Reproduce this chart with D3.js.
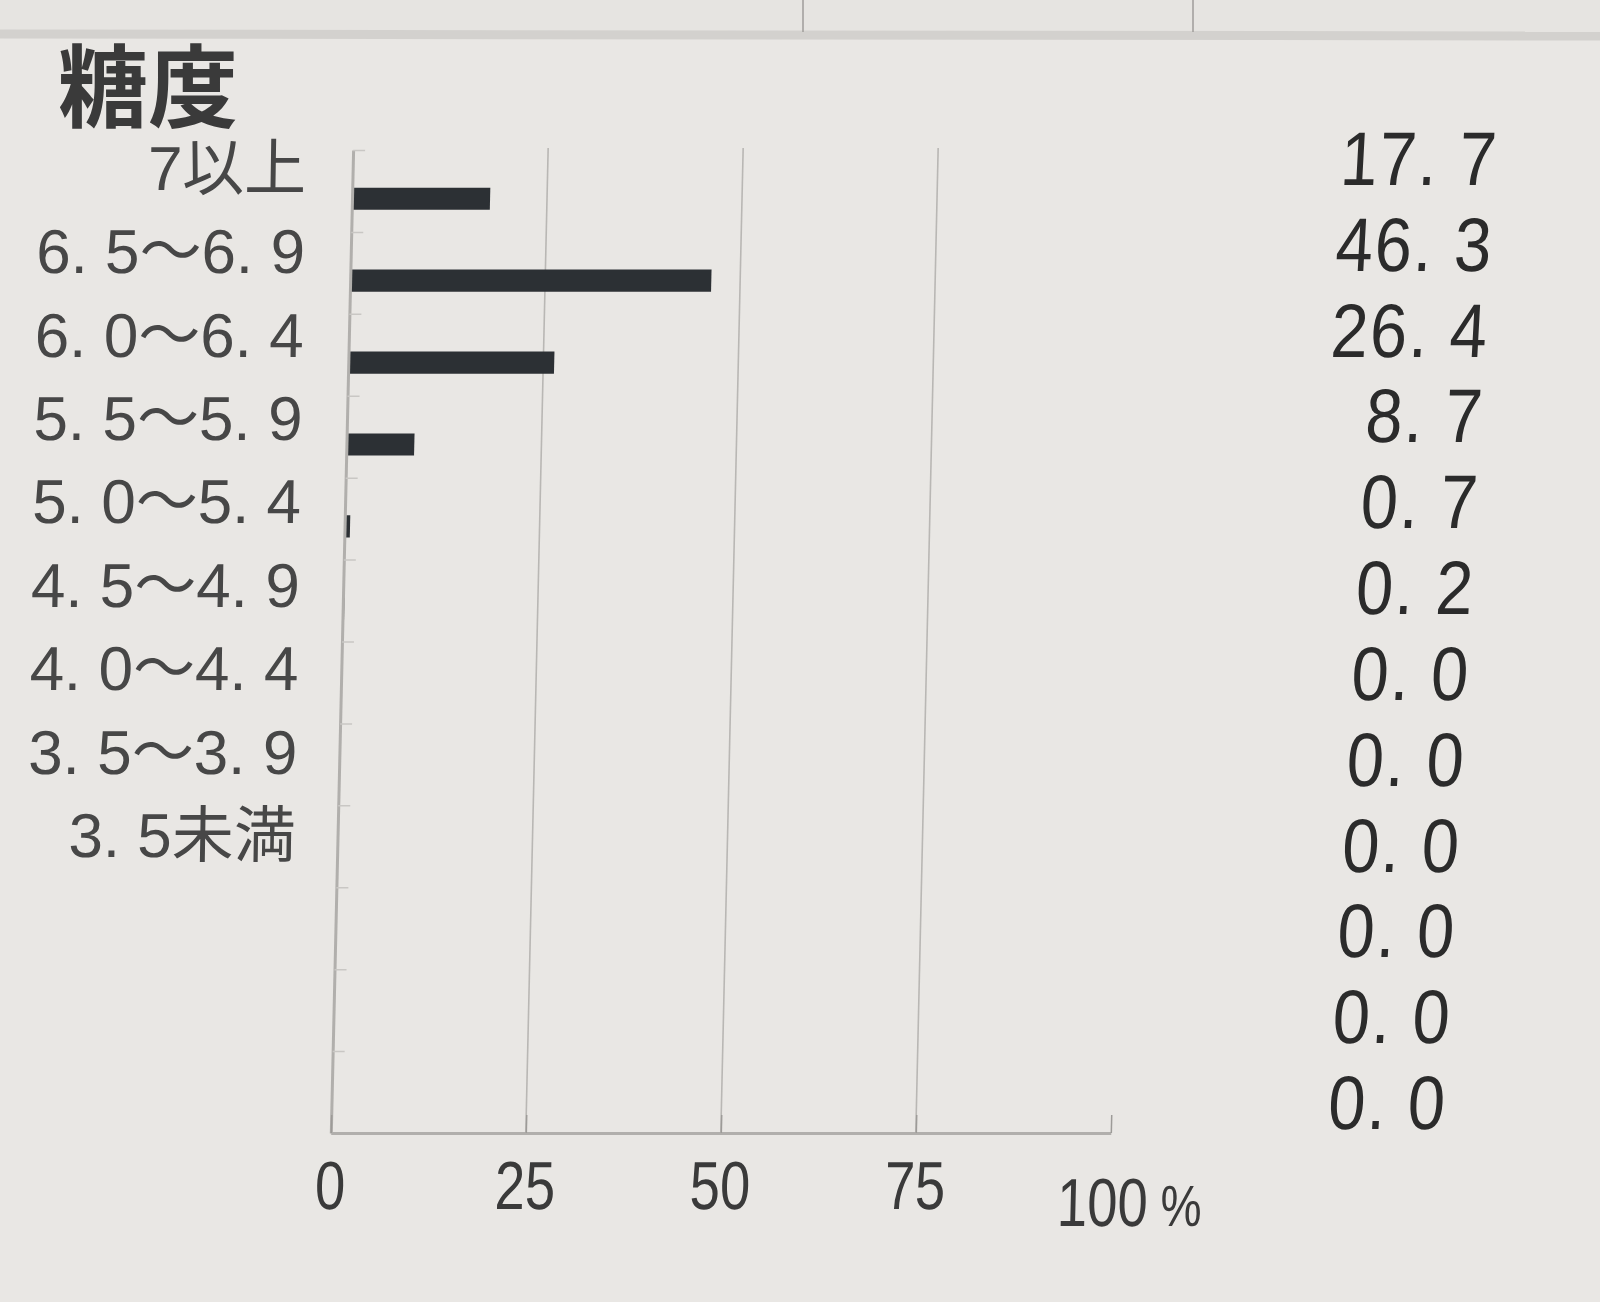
<!DOCTYPE html>
<html><head><meta charset="utf-8">
<script src="https://cdn.jsdelivr.net/npm/d3@7"></script>
<style>
html,body{margin:0;padding:0;background:#e9e7e4;}
svg{display:block;}
</style></head><body>
<svg id="chart" width="1600" height="1302"></svg>
<script>
// ---- data ----
const title = "糖度";
const categories = ["7以上","6.5～6.9","6.0～6.4","5.5～5.9","5.0～5.4","4.5～4.9","4.0～4.4","3.5～3.9","3.5未満","","",""];
const values = [17.7, 46.3, 26.4, 8.7, 0.7, 0.2, 0.0, 0.0, 0.0, 0.0, 0.0, 0.0];
const xTicks = [0, 25, 50, 75, 100];
const gridTicks = [25, 50, 75];
const unit = "%";

// ---- layout ----
const W = 1600, H = 1302;
const svg = d3.select("#chart");
const skew = (deg, py) => `translate(0,${py}) skewX(${deg}) translate(0,${-py})`;
const spaced = s => s.replace(/\./g, ". ");

// background / page edge at top
svg.append("rect").attr("width", W).attr("height", H).attr("fill", "#e9e7e4");
svg.append("rect").attr("x", 0).attr("y", 0).attr("width", W).attr("height", 32).attr("fill", "#e6e4e1");
svg.append("line").attr("x1", 0).attr("x2", W).attr("y1", 34).attr("y2", 36)
  .attr("stroke", "#d3d1ce").attr("stroke-width", 9);
[803, 1193].forEach(xx => svg.append("line").attr("x1", xx).attr("x2", xx).attr("y1", 0).attr("y2", 32)
  .attr("stroke", "#9f9d9a").attr("stroke-width", 1.5));

const idx = d3.range(values.length);
const x = d3.scaleLinear().domain([0, 100]).range([342, 1122]);
const yEdge = d3.scaleLinear().domain([0, values.length]).range([150, 1133]);
const step = yEdge(1) - yEdge(0);
const yLabel = d3.scalePoint().domain(idx).range([168, 1085]);
const yVal = d3.scalePoint().domain(idx).range([158, 1102]);

// ---- plot group ----
const g = svg.append("g").attr("transform", skew(-1.3, 640));

g.selectAll("line.grid").data(gridTicks).join("line")
  .attr("class", "grid")
  .attr("x1", d => x(d)).attr("x2", d => x(d))
  .attr("y1", yEdge(0) - 2).attr("y2", yEdge(values.length))
  .attr("stroke", "#b9b7b4").attr("stroke-width", 1.6);

// bars
g.selectAll("rect.bar").data(values).join("rect")
  .attr("class", "bar")
  .attr("x", x(0))
  .attr("y", (d, i) => yEdge(i) + step * 0.46)
  .attr("height", step * 0.27)
  .attr("width", d => x(d) - x(0))
  .attr("fill", "#2c3034");

// y axis (edge ticks pointing inside)
const yAxis = g.append("g").attr("transform", `translate(${x(0)},0)`)
  .call(d3.axisRight(yEdge).tickValues(d3.range(0, values.length + 1))
    .tickSize(12).tickSizeOuter(0).tickFormat(""));
yAxis.select(".domain").attr("stroke", "#b1afac").attr("stroke-width", 3);
yAxis.selectAll(".tick line").attr("stroke", "#c9c7c4").attr("stroke-width", 1.5);

// x axis
const xAxis = g.append("g").attr("transform", `translate(0,${yEdge(values.length)})`)
  .call(d3.axisBottom(x).tickValues(xTicks).tickSize(-18).tickSizeOuter(0).tickPadding(28)
    .tickFormat(d => d));
xAxis.select(".domain").attr("stroke", "#b1afac").attr("stroke-width", 3);
xAxis.selectAll(".tick line").attr("stroke", "#9d9b98").attr("stroke-width", 1.5);
xAxis.selectAll(".tick text")
  .attr("font-family", "'Liberation Sans', sans-serif")
  .attr("font-size", 68).attr("fill", "#3a3a3a")
  .attr("transform", "scale(0.8,1)");
const lastTick = xAxis.selectAll(".tick text").filter(d => d === xTicks[xTicks.length - 1])
  .attr("text-anchor", "start").attr("dx", -66).attr("dy", "0.95em");
lastTick.append("tspan").attr("font-size", 58).text(" " + unit);

// ---- category labels ----
svg.append("g").attr("transform", skew(-0.9, 640))
  .selectAll("text").data(categories).join("text")
  .attr("x", 299)
  .attr("y", (d, i) => yLabel(i) + 22)
  .attr("text-anchor", "end")
  .attr("font-family", "'Liberation Sans', 'Noto Sans CJK JP', sans-serif")
  .attr("font-size", 62).attr("fill", "#474747")
  .text(d => spaced(d));

// ---- value column ----
svg.append("g").attr("transform", skew(-3.1, 640))
  .selectAll("text").data(values).join("text")
  .attr("transform", (d, i) => `translate(1472,${yVal(i) + 27}) scale(0.88,1)`)
  .attr("text-anchor", "end")
  .attr("font-family", "'Liberation Sans', sans-serif")
  .attr("font-size", 76).attr("letter-spacing", 2).attr("fill", "#2b2b2b")
  .text(d => spaced(d3.format(".1f")(d)));

// ---- title ----
svg.append("text").attr("x", 58).attr("y", 120)
  .attr("font-family", "'Noto Sans CJK JP', sans-serif").attr("font-weight", "bold")
  .attr("font-size", 90).attr("fill", "#3a3a3a")
  .text(title);
</script>
</body></html>
